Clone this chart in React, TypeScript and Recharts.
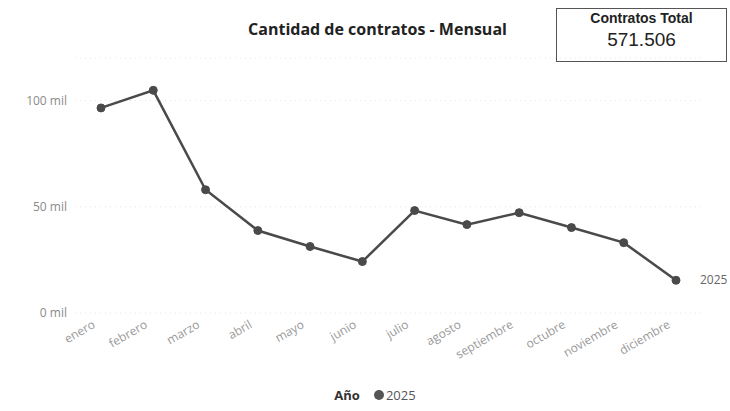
import { LineChart, Line, XAxis, YAxis, CartesianGrid, LabelList } from "recharts";

const months = [
  "enero", "febrero", "marzo", "abril", "mayo", "junio",
  "julio", "agosto", "septiembre", "octubre", "noviembre", "diciembre",
];
const contratos2025 = [
  96500, 104800, 58000, 38800, 31300, 24200,
  48200, 41600, 47200, 40200, 33100, 15400,
];
const yTicks = [0, 50000, 100000];
const seriesName = "2025";
const totalLabel = "571.506";

const chartData = months.map((m, i) => ({ mes: m, valor: contratos2025[i] }));

const FONT = "'Open Sans', 'Noto Sans', sans-serif";

const MonthTick = (props: any) => {
  const { x, y, payload } = props;
  return (
    <text
      x={x - 5}
      y={y + 6}
      transform={`rotate(-30, ${x - 5}, ${y + 6})`}
      textAnchor="end"
      fontSize={12}
      fill="#999"
      fontFamily={FONT}
    >
      {payload.value}
    </text>
  );
};

const EndLabel = (props: any) => {
  const { x, y, index } = props;
  if (index !== months.length - 1) return null;
  return (
    <text x={x + 24} y={y + 4} fontSize={12} fill="#666" fontFamily={FONT}>
      {seriesName}
    </text>
  );
};

const App = () => {
  return (
    <div style={{ position: "absolute", left: 0, top: 0, width: 730, height: 411, background: "#fff" }}>
      <div
        style={{
          position: "absolute", left: 180, width: 395, top: 18, textAlign: "center",
          fontFamily: FONT, fontWeight: 700, fontSize: 16, color: "#222",
        }}
      >
        Cantidad de contratos - Mensual
      </div>

      <div
        style={{
          position: "absolute", left: 556, top: 8, width: 171, height: 54,
          border: "1px solid #555", boxSizing: "border-box", textAlign: "center",
          fontFamily: "'Liberation Sans', Arial, sans-serif", color: "#222",
        }}
      >
        <div style={{ fontWeight: 700, fontSize: 14, marginTop: 1 }}>Contratos Total</div>
        <div style={{ fontSize: 19, marginTop: 3 }}>{totalLabel}</div>
      </div>

      <LineChart
        width={730}
        height={411}
        data={chartData}
        margin={{ top: 58, right: 28, left: 0, bottom: 38 }}
      >
        <CartesianGrid vertical={false} stroke="#e4e4e4" strokeDasharray="1 4" />
        <XAxis
          dataKey="mes"
          interval={0}
          height={60}
          axisLine={false}
          tickLine={false}
          padding={{ left: 26, right: 26 }}
          tick={<MonthTick />}
        />
        <YAxis
          width={75}
          domain={[0, 120000]}
          ticks={yTicks}
          axisLine={false}
          tickLine={false}
          tickFormatter={(v: number) => `${v / 1000} mil`}
          tick={{ fontSize: 12, fill: "#8a8a8a", fontFamily: FONT }}
        />
        <Line
          type="linear"
          dataKey="valor"
          stroke="#4a4a4a"
          strokeWidth={2.5}
          dot={{ r: 4, fill: "#4a4a4a", stroke: "#4a4a4a", strokeWidth: 1 }}
          isAnimationActive={false}
        >
          <LabelList dataKey="valor" content={<EndLabel />} />
        </Line>
      </LineChart>

      <div
        style={{
          position: "absolute", left: 0, width: 730, top: 386, display: "flex",
          justifyContent: "center", alignItems: "center", fontFamily: FONT,
          fontSize: 13, color: "#555",
        }}
      >
        <span style={{ fontWeight: 700, color: "#333", marginRight: 14, marginLeft: 20 }}>Año</span>
        <span style={{ width: 10, height: 10, borderRadius: 5, background: "#555", display: "inline-block", marginRight: 2 }} />
        <span>{seriesName}</span>
      </div>
    </div>
  );
};

export default App;
